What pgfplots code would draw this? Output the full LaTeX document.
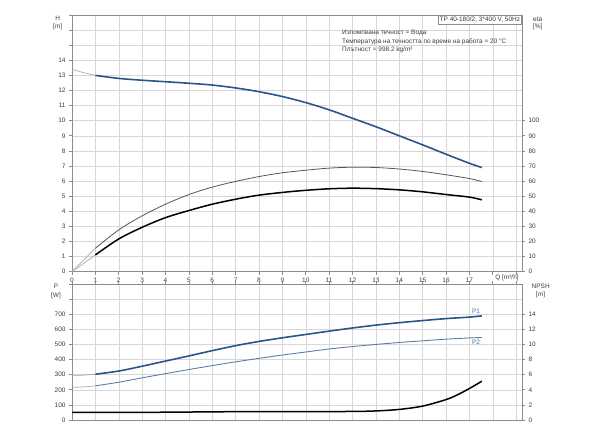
\documentclass[border=0pt]{standalone}
\usepackage{pgfplots}
\pgfplotsset{compat=1.18}
\usepackage{fontspec}
\setmainfont{Liberation Sans}
\definecolor{hblue}{RGB}{40,86,138}
\definecolor{p2blue}{RGB}{95,125,160}
\definecolor{lblblue}{RGB}{60,110,165}
\definecolor{axisgray}{RGB}{140,140,140}
\definecolor{gridgray}{RGB}{215,215,215}
\definecolor{txtgray}{RGB}{60,60,60}
\definecolor{effgray}{RGB}{85,85,85}
\definecolor{startgray}{RGB}{170,170,170}
\begin{document}
\begin{tikzpicture}
\path[use as bounding box] (0bp,0bp) rectangle (600bp,441bp);
\pgfplotsset{every axis/.append style={
  scale only axis,
  font=\fontsize{6.5}{7.5}\selectfont,
  /pgf/number format/assume math mode=true,
  axis line style={draw=axisgray, line width=0.9bp},
  grid style={draw=gridgray, line width=0.5bp},
  tick style={draw=axisgray, line width=0.6bp},
  tick label style={text=txtgray},
  tick align=outside,
  major tick length=3bp,
  xmin=0, xmax=19.25,
  clip=false,
}}
% ---------- top axis: H and eta ----------
\begin{axis}[
  at={(72bp,169.3bp)}, anchor=south west,
  width=450bp, height=256.7bp,
  ymin=0, ymax=17,
  xtick={0,1,2,3,4,5,6,7,8,9,10,11,12,13,14,15,16,17,18,19},
  xticklabels={0,1,2,3,4,5,6,7,8,9,10,11,12,13,14,15,16,17,{},{}},
  ytick={0,1,2,3,4,5,6,7,8,9,10,11,12,13,14,15,16,17},
  yticklabels={0,1,2,3,4,5,6,7,8,9,10,11,12,13,14,{},{},{}},
  xtick pos=bottom, ytick pos=left,
  grid=major,
]
\addplot[startgray, line width=0.7bp] coordinates {(0,13.4) (0.5,13.18) (1,13.0)};
\addplot[hblue, line width=1.6bp, smooth] coordinates {
(1,13.0) (2,12.8) (3,12.68) (4,12.58) (5,12.48) (6,12.36) (7,12.17) (8,11.92) (9,11.6)
(10,11.2) (11,10.72) (12,10.16) (13,9.6) (14,9.0) (15,8.4) (16,7.78) (17,7.18) (17.53,6.9)};
\end{axis}
\begin{axis}[
  at={(72bp,169.3bp)}, anchor=south west,
  width=450bp, height=256.7bp,
  ymin=0, ymax=170,
  axis y line*=right, axis x line=none,
  ytick={0,10,20,30,40,50,60,70,80,90,100},
]
\addplot[startgray, line width=0.7bp] coordinates {(0,0) (1,15.5)};
\addplot[startgray, line width=0.7bp] coordinates {(0,0) (1,11.1)};
\addplot[effgray, line width=0.8bp, smooth] coordinates {
(1,15.5) (2,27.7) (3,37) (4,44.7) (5,51.1) (6,56) (7,59.8) (8,63) (9,65.5)
(10,67.2) (11,68.6) (12,69.2) (13,69) (14,68) (15,66.4) (16,64.2) (17,61.7) (17.53,59.7)};
\addplot[black, line width=1.5bp, smooth] coordinates {
(1,11.1) (2,21.7) (3,29.4) (4,35.8) (5,40.5) (6,44.7) (7,48) (8,50.7) (9,52.5)
(10,53.9) (11,54.9) (12,55.3) (13,55) (14,54.2) (15,52.9) (16,51.1) (17,49.4) (17.53,47.6)};
\end{axis}
% ---------- bottom axis: P and NPSH ----------
\begin{axis}[
  at={(72bp,21bp)}, anchor=south west,
  width=450bp, height=136bp,
  ymin=0, ymax=900,
  xtick={0,1,2,3,4,5,6,7,8,9,10,11,12,13,14,15,16,17,18,19},
  xticklabels={},
  ytick={0,100,200,300,400,500,600,700,800,900},
  yticklabels={0,100,200,300,400,500,600,700,{},{}},
  xtick pos=top, ytick pos=left,
  grid=major,
]
\addplot[p2blue!70, line width=0.7bp, smooth] coordinates {(0,295) (0.5,297) (1,303)};
\addplot[hblue, line width=1.6bp, smooth] coordinates {
(1,303) (2,324) (3,356) (4,390) (5,424) (6,459) (7,492) (8,520) (9,544)
(10,566) (11,588) (12,609) (13,628) (14,644) (15,658) (16,671) (17,681) (17.53,689)};
\addplot[p2blue!70, line width=0.6bp, smooth] coordinates {(0,215) (0.5,219) (1,226)};
\addplot[p2blue, line width=0.9bp, smooth] coordinates {
(1,226) (2,250) (3,279) (4,307) (5,334) (6,360) (7,385) (8,408) (9,430)
(10,450) (11,470) (12,486) (13,500) (14,513) (15,524) (16,535) (17,543) (17.53,546)};
\end{axis}
\begin{axis}[
  at={(72bp,21bp)}, anchor=south west,
  width=450bp, height=136bp,
  ymin=0, ymax=18,
  axis y line*=right, axis x line=none,
  ytick={0,2,4,6,8,10,12,14},
]
\addplot[black, line width=1.5bp, smooth] coordinates {
(0,1.0) (2,1.0) (4,1.03) (6,1.08) (8,1.12) (10,1.12) (12,1.13) (13,1.2) (14,1.4)
(15,1.84) (16,2.7) (16.5,3.35) (17,4.17) (17.53,5.13)};
\end{axis}
% ---------- texts ----------
\begin{scope}[font=\fontsize{6.5}{7.5}\selectfont, text=txtgray]
\node at (57.7bp,423bp) {H};
\node at (57.7bp,414bp) {[m]};
\node at (537.7bp,422bp) {eta};
\node at (537.7bp,414bp) {[\%]};
\node at (56bp,155bp) {P};
\node at (56bp,145.5bp) {[W]};
\node at (540.7bp,154.5bp) {NPSH};
\node at (540.7bp,146bp) {[m]};
\node at (507bp,163.5bp) {Q [m³/h]};
\node[draw=axisgray, fill=white, anchor=north east, inner sep=1.6bp, line width=0.6bp] at (522bp,426bp) {TP 40-180/2, 3*400 V, 50Hz};
\node[anchor=west, inner sep=0pt] at (342bp,408bp) {Изпомпвана течност = Вода};
\node[anchor=west, inner sep=0pt] at (342bp,399.5bp) {Температура на течността по време на работа = 20 °C};
\node[anchor=west, inner sep=0pt] at (342bp,391.5bp) {Плътност = 998.2 kg/m³};
\node[text=lblblue] at (476bp,129.5bp) {P1};
\node[text=lblblue] at (476bp,98.5bp) {P2};
\end{scope}
\end{tikzpicture}
\end{document}
